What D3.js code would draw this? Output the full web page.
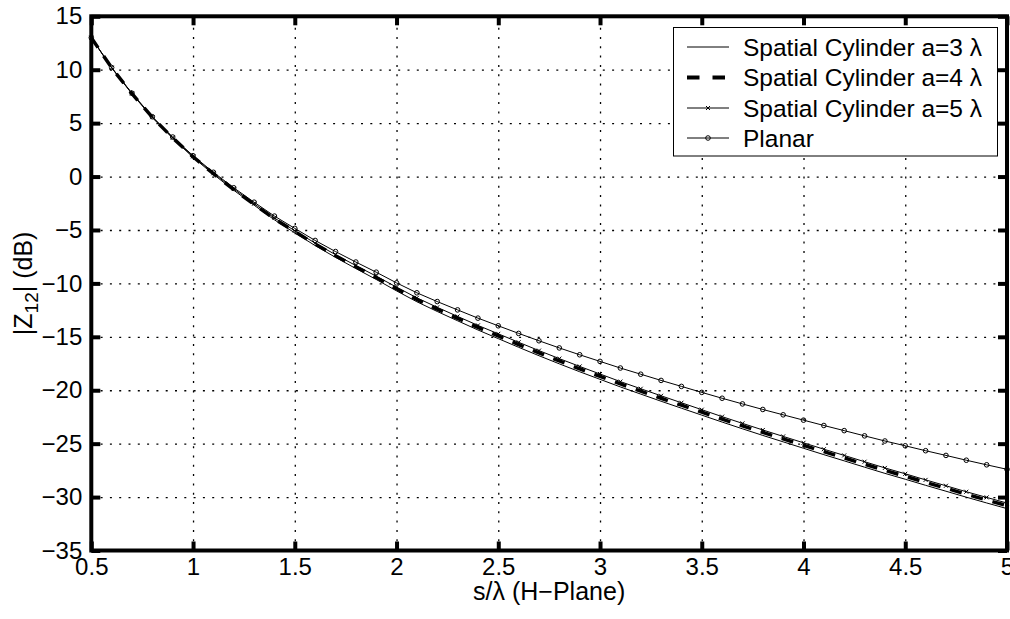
<!DOCTYPE html>
<html>
<head>
<meta charset="utf-8">
<script src="https://cdn.jsdelivr.net/npm/d3@7"></script>
<style>
  body { margin: 0; background: #fff; }
  text { font-family: "Liberation Sans", Arial, Helvetica, sans-serif; fill: #000; }
</style>
</head>
<body>
<div id="chart"></div>
<script>
'use strict'

// s / lambda sample points
const sValues = [0.5, 0.6, 0.7, 0.8, 0.9, 1.0, 1.1, 1.2, 1.3, 1.4, 1.5, 1.6, 1.7, 1.8, 1.9, 2.0,
    2.1, 2.2, 2.3, 2.4, 2.5, 2.6, 2.7, 2.8, 2.9, 3.0, 3.1, 3.2, 3.3, 3.4, 3.5, 3.6, 3.7, 3.8, 3.9, 4.0,
    4.1, 4.2, 4.3, 4.4, 4.5, 4.6, 4.7, 4.8, 4.9, 5.0]

// |Z12| in dB
const cyl3 = [13.0, 10.17, 7.74, 5.51, 3.58, 1.8, 0.21, -1.28, -2.68, -4.05, -5.27, -6.46, -7.56, -8.61, -9.63, -10.7,
    -11.72, -12.63, -13.5, -14.36, -15.17, -15.98, -16.77, -17.53, -18.27, -18.98, -19.69, -20.36, -21.03, -21.68, -22.33,
    -22.98, -23.61, -24.23, -24.83, -25.43, -26.03, -26.61, -27.2, -27.78, -28.33, -28.9, -29.45, -30.01, -30.55, -31.08]

const cyl4 = [13.0, 10.18, 7.76, 5.54, 3.62, 1.85, 0.27, -1.21, -2.6, -3.95, -5.15, -6.32, -7.41, -8.44, -9.45, -10.5,
    -11.51, -12.41, -13.27, -14.12, -14.92, -15.72, -16.5, -17.26, -17.99, -18.7, -19.41, -20.08, -20.75, -21.4, -22.05,
    -22.7, -23.33, -23.95, -24.55, -25.15, -25.75, -26.33, -26.92, -27.5, -28.05, -28.62, -29.17, -29.73, -30.27, -30.8]

const cyl5 = [13.0, 10.19, 7.77, 5.56, 3.64, 1.88, 0.31, -1.16, -2.54, -3.88, -5.07, -6.23, -7.31, -8.33, -9.32, -10.35,
    -11.35, -12.24, -13.09, -13.93, -14.72, -15.51, -16.29, -17.04, -17.77, -18.48, -19.19, -19.86, -20.52, -21.17, -21.82,
    -22.47, -23.1, -23.72, -24.32, -24.92, -25.52, -26.1, -26.69, -27.27, -27.82, -28.39, -28.94, -29.5, -30.03, -30.56]

const planar = [13.0, 10.2, 7.8, 5.6, 3.7, 1.95, 0.4, -1.05, -2.4, -3.7, -4.85, -5.98, -7.02, -8.0, -8.95, -9.95,
    -10.88, -11.7, -12.48, -13.25, -13.97, -14.68, -15.37, -16.04, -16.68, -17.3, -17.92, -18.5, -19.08, -19.64, -20.2,
    -20.75, -21.28, -21.8, -22.3, -22.8, -23.3, -23.78, -24.27, -24.75, -25.2, -25.66, -26.1, -26.55, -26.98, -27.4]

const seriesNames = ["Spatial Cylinder a=3 \u03bb", "Spatial Cylinder a=4 \u03bb", "Spatial Cylinder a=5 \u03bb", "Planar"]

const xTicks = [0.5, 1, 1.5, 2, 2.5, 3, 3.5, 4, 4.5, 5]
const yTicks = [-35, -30, -25, -20, -15, -10, -5, 0, 5, 10, 15]

////////////////////////////////////
//////////// svg setup /////////////
////////////////////////////////////

const svgWidth = 1010
const svgHeight = 619
const margin = { left: 91.3, right: 3, top: 16.3, bottom: 68.5 }
const width = svgWidth - margin.left - margin.right
const height = svgHeight - margin.top - margin.bottom

const svg = d3.select('#chart')
    .append('svg')
    .attr('width', svgWidth)
    .attr('height', svgHeight)

const g = svg.append('g')
    .attr('transform', `translate(${margin.left},${margin.top})`)

////////////////////////////////////
//////////// Scales ////////////////
////////////////////////////////////

const x = d3.scaleLinear().domain([0.5, 5]).range([0, width])
const y = d3.scaleLinear().domain([-35, 15]).range([height, 0])

////////////////////////////////////
//////////// Grid //////////////////
////////////////////////////////////

g.append('g')
    .call(d3.axisBottom(x).tickValues(xTicks).tickSize(-height).tickFormat(''))
    .attr('transform', `translate(0,${height})`)
    .selectAll('line')
    .attr('stroke', '#000')
    .attr('stroke-width', 1.3)
    .attr('stroke-dasharray', '2,7.3')

g.append('g')
    .call(d3.axisLeft(y).tickValues(yTicks).tickSize(-width).tickFormat(''))
    .selectAll('line')
    .attr('stroke', '#000')
    .attr('stroke-width', 1.3)
    .attr('stroke-dasharray', '2,7.3')

g.selectAll('.domain').remove()

////////////////////////////////////
//////////// Axes //////////////////
////////////////////////////////////

const fontSize = '24px'

// tick marks on all four sides, pointing inward
const xAxis = g.append('g')
    .attr('transform', `translate(0,${height})`)
    .call(d3.axisBottom(x).tickValues(xTicks).tickSize(-9).tickPadding(7).tickFormat(d => String(d)))
xAxis.selectAll('text').attr('font-size', fontSize).attr('font-family', null)

g.append('g')
    .call(d3.axisTop(x).tickValues(xTicks).tickSize(-9).tickFormat(''))

const yAxis = g.append('g')
    .call(d3.axisLeft(y).tickValues(yTicks).tickSize(-9).tickPadding(9).tickFormat(d3.format('d')))
yAxis.selectAll('text').attr('font-size', fontSize).attr('font-family', null)

g.append('g')
    .attr('transform', `translate(${width},0)`)
    .call(d3.axisRight(y).tickValues(yTicks).tickSize(-9).tickFormat(''))

g.selectAll('.tick line').filter(function () { return !this.getAttribute('stroke-dasharray') })
    .attr('stroke', '#000')
    .attr('stroke-width', 4)
g.selectAll('.domain').remove()

// axis box
g.append('rect')
    .attr('x', 0).attr('y', 0)
    .attr('width', width).attr('height', height)
    .attr('fill', 'none')
    .attr('stroke', '#000')
    .attr('stroke-width', 4)

////////////////////////////////////
//////////// Lines /////////////////
////////////////////////////////////

const rows = [cyl3, cyl4, cyl5, planar].map(vals => sValues.map((s, i) => ({ s: s, v: vals[i] })))

const line = d3.line()
    .x(d => x(d.s))
    .y(d => y(d.v))

const styles = [
    { width: 1, dash: null, marker: null },
    { width: 3.5, dash: '12,10', marker: null },
    { width: 1, dash: null, marker: 'x' },
    { width: 1, dash: null, marker: 'o' }
]

function drawMarker(sel, type, cx, cy) {
    if (type === 'o') {
        sel.append('circle')
            .attr('cx', cx).attr('cy', cy).attr('r', 2.3)
            .attr('fill', 'none').attr('stroke', '#000').attr('stroke-width', 1)
    } else if (type === 'x') {
        sel.append('path')
            .attr('d', `M${cx - 2},${cy - 2}L${cx + 2},${cy + 2}M${cx - 2},${cy + 2}L${cx + 2},${cy - 2}`)
            .attr('stroke', '#000').attr('stroke-width', 1)
    }
}

rows.forEach((data, k) => {
    const st = styles[k]
    g.append('path')
        .datum(data)
        .attr('d', line)
        .attr('fill', 'none')
        .attr('stroke', '#000')
        .attr('stroke-width', st.width)
        .attr('stroke-dasharray', st.dash)
    if (st.marker) {
        const mg = g.append('g')
        data.forEach(d => drawMarker(mg, st.marker, x(d.s), y(d.v)))
    }
})

////////////////////////////////////
//////////// Labels ////////////////
////////////////////////////////////

svg.append('text')
    .attr('x', margin.left + width / 2)
    .attr('y', 600)
    .attr('text-anchor', 'middle')
    .attr('font-size', '25px')
    .text('s/\u03bb (H\u2212Plane)')

const yLabel = svg.append('text')
    .attr('text-anchor', 'middle')
    .attr('font-size', '25px')
    .attr('transform', `translate(32,${margin.top + height / 2}) rotate(-90)`)
yLabel.append('tspan').text('|Z')
yLabel.append('tspan').attr('font-size', '19px').attr('dy', 6).text('12')
yLabel.append('tspan').attr('dy', -6).text('| (dB)')

////////////////////////////////////
//////////// Legend ////////////////
////////////////////////////////////

const legend = svg.append('g')
legend.append('rect')
    .attr('x', 673.5).attr('y', 27.5)
    .attr('width', 324).attr('height', 128.5)
    .attr('fill', '#fff')
    .attr('stroke', '#000')
    .attr('stroke-width', 1)

const rowY = [47, 77.5, 108, 138]
seriesNames.forEach((name, k) => {
    const st = styles[k]
    const ly = rowY[k]
    legend.append('line')
        .attr('x1', 687).attr('x2', 729)
        .attr('y1', ly).attr('y2', ly)
        .attr('stroke', '#000')
        .attr('stroke-width', k === 1 ? 4 : 1)
        .attr('stroke-dasharray', k === 1 ? '12.5,13' : null)
    if (st.marker) drawMarker(legend, st.marker, 708, ly)
    legend.append('text')
        .attr('x', 743)
        .attr('y', ly + 8.5)
        .attr('font-size', '24.5px')
        .text(name)
})
</script>
</body>
</html>
